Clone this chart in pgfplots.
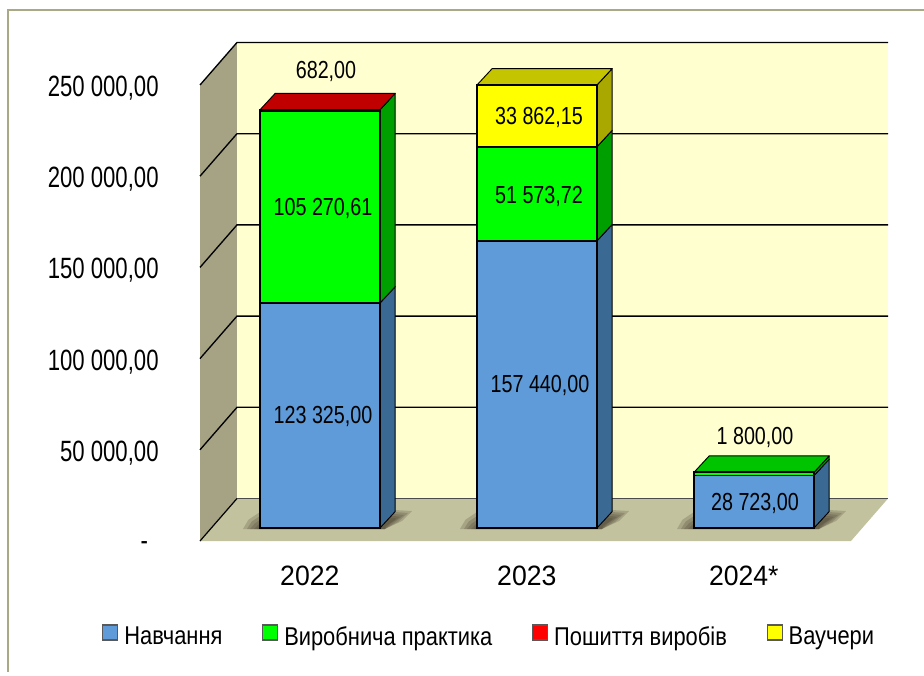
\documentclass[border=0pt]{standalone}
\usepackage{fontspec}
\setmainfont{Liberation Sans}[FakeStretch=0.8]
\newfontfamily\catfont{Liberation Sans}[FakeStretch=0.95]
\newfontfamily\legfont{Liberation Sans}[FakeStretch=0.85]
\newfontfamily\tickfont{Liberation Sans}[FakeStretch=0.755]
\usepackage{pgfplots}
\pgfplotsset{compat=1.18}

\definecolor{frameline}{HTML}{A9A985}
\definecolor{backwall}{HTML}{FFFFCF}
\definecolor{sidewall}{HTML}{A5A384}
\definecolor{floorc}{HTML}{C2C29E}
\definecolor{blue}{HTML}{5E9BD8}
\definecolor{blueside}{HTML}{3A6A94}
\definecolor{greenf}{HTML}{00FF00}
\definecolor{greenside}{HTML}{009F00}
\definecolor{greentop}{HTML}{00C400}
\definecolor{redf}{HTML}{FF0000}
\definecolor{redtop}{HTML}{C00000}
\definecolor{yellowf}{HTML}{FFFF00}
\definecolor{yellowside}{HTML}{A8A800}
\definecolor{yellowtop}{HTML}{C4C400}
\definecolor{shadowc}{HTML}{3A3020}

% 1 px of the reference = 0.75pt; the bars stand 11.5 px right and 13 px up of the front plane
\pgfplotsset{
  frontplane/.style={
    scale only axis, width=488.25pt, height=342pt,
    at={(150pt,100.5pt)}, anchor=south west,
    xmin=-0.5, xmax=2.5, ymin=0, ymax=250000,
    clip=false,
  },
  barshift/.style={xshift=8.625pt, yshift=9.75pt},
  face/.style={barshift, draw=black, line width=0.7pt, line join=round},
  wall/.style={draw=none},
  gridl/.style={black, line width=1pt},
  shadowl/.style={barshift, draw=none, fill=shadowc, fill opacity=0.2},
}
% depth of a bar: 0.07 in x, 9000 in y
\newcommand{\face}[2]{\addplot[face, fill=#1] coordinates {#2} --cycle;}
\newcommand{\gridline}[2]{\addplot[gridl] coordinates {(-0.5,#1) (-0.3295,#2) (2.6705,#2)};}
\newcommand{\barshadow}[1]{%
  \addplot[shadowl, xshift=#1] coordinates {(-0.3548,-548) (-0.33,4500) (-0.2765,8768) (0.3456,9864) (0.424,9316) (0.378,3836) (0.2995,-548)} --cycle;
  \addplot[shadowl, xshift=#1] coordinates {(-0.3364,-548) (-0.315,3500) (-0.2765,6576) (0.3456,8768) (0.4055,8220) (0.3594,3288) (0.2995,-548)} --cycle;
  \addplot[shadowl, xshift=#1] coordinates {(-0.3226,-548) (-0.30,2500) (-0.2765,4384) (0.3456,7672) (0.387,7124) (0.341,2740) (0.2995,-548)} --cycle;
  \addplot[shadowl, xshift=#1] coordinates {(-0.3041,-548) (-0.2765,2740) (0.3456,6576) (0.3687,6028) (0.3226,2192) (0.2995,-548)} --cycle;
  \addplot[shadowl, xshift=#1] coordinates {(-0.2903,-548) (-0.2765,1096) (0.3456,5480) (0.35,4932) (0.304,1096) (0.2995,-548)} --cycle;
}

\begin{document}
\begin{tikzpicture}
\useasboundingbox (0,0) rectangle (693pt,506.25pt);
\draw[frameline, line width=1.5pt] (693pt,498.75pt) -- (6pt,498.75pt) -- (6pt,2pt);

\begin{axis}[frontplane,
  axis lines=left, axis line style={draw=none}, major tick length=0pt,
  scaled y ticks=false,
  xtick={0,1,2}, xticklabels={2022,2023,2024*},
  xticklabel style={font=\catfont\fontsize{21}{21}\selectfont, anchor=center, xshift=1pt, yshift=-26pt},
  ytick={0,50000,100000,150000,200000,250000},
  yticklabels={\raisebox{1.5pt}{-}\kern8pt\null,{50 000,00},{100 000,00},{150 000,00},{200 000,00},{250 000,00}},
  yticklabel style={font=\tickfont\fontsize{22}{22}\selectfont, anchor=base east, xshift=-27.5pt, yshift=-8.6pt},
]
% walls and floor
\addplot[wall, fill=sidewall] coordinates {(-0.5,0) (-0.3295,23300) (-0.3295,273300) (-0.5,250000)} --cycle;
\addplot[wall, fill=backwall] coordinates {(-0.3295,23300) (2.6705,23300) (2.6705,273300) (-0.3295,273300)} --cycle;
\addplot[wall, fill=floorc] coordinates {(-0.5,0) (2.5,0) (2.6705,23300) (-0.3295,23300)} --cycle;
\addplot[black, line width=0.9pt] coordinates {(-0.5,0) (-0.3295,23300)};
\addplot[black!70, line width=0.8pt] coordinates {(-0.3295,23300) (2.6705,23300)};
\gridline{50000}{73300}
\gridline{100000}{123300}
\gridline{150000}{173300}
\gridline{200000}{223300}
\gridline{250000}{273300}
\barshadow{0pt}
\barshadow{162.75pt}
\barshadow{325.5pt}
% 2022 sides and top
\face{blueside}{(0.2765,0) (0.3465,9000) (0.3465,132325) (0.2765,123325)}
\face{greenside}{(0.2765,123325) (0.3465,132325) (0.3465,238278) (0.2765,229278)}
\face{redtop}{(-0.2765,229278) (0.2765,229278) (0.3465,238278) (-0.2065,238278)}
% 2023
\face{blueside}{(1.2765,0) (1.3465,9000) (1.3465,166440) (1.2765,157440)}
\face{greenside}{(1.2765,157440) (1.3465,166440) (1.3465,218014) (1.2765,209014)}
\face{yellowside}{(1.2765,209014) (1.3465,218014) (1.3465,251876) (1.2765,242876)}
\face{yellowtop}{(0.7235,242876) (1.2765,242876) (1.3465,251876) (0.7935,251876)}
% 2024
\face{blueside}{(2.2765,0) (2.3465,9000) (2.3465,37723) (2.2765,28723)}
\face{greenside}{(2.2765,28723) (2.3465,37723) (2.3465,39523) (2.2765,30523)}
\face{greentop}{(1.7235,30523) (2.2765,30523) (2.3465,39523) (1.7935,39523)}
\end{axis}

\begin{axis}[frontplane, hide axis,
  ybar stacked, bar width=0.553,
  every axis plot/.append style={barshift, draw=black, line width=1.3pt},
  legend columns=4,
  legend style={at={(0.4447,-0.2105)}, anchor=center, draw=none, fill=none,
    font=\legfont\fontsize{19.3}{19.3}\selectfont,
    /tikz/every even column/.append style={column sep=27.8pt}},
  legend image code/.code={\draw[#1, draw=black!65, line width=0.8pt] (0pt,-12pt) rectangle (11.25pt,-0.75pt); \path (13.5pt,-6pt);},
]
\addplot[fill=blue] coordinates {(0,123325) (1,157440) (2,28723)};
\addlegendentry{Навчання}
\addplot[fill=greenf] coordinates {(0,105270.61) (1,51573.72) (2,1800)};
\addlegendentry{Виробнича практика}
\addplot[fill=redf] coordinates {(0,682) (1,0) (2,0)};
\addlegendentry{Пошиття виробів}
\addplot[fill=yellowf] coordinates {(0,0) (1,33862.15) (2,0)};
\addlegendentry{Ваучери}
\end{axis}

% value labels, at reference pixels
\begin{scope}[shift={(0,506.25pt)}, x=0.75pt, y=-0.75pt, every node/.style={font=\fontsize{18.5}{18.5}\selectfont}]
\node at (326,71) {682,00};
\node at (323,208) {105 270,61};
\node at (323,416) {123 325,00};
\node at (540,385) {157 440,00};
\node at (539,196) {51 573,72};
\node at (539,117) {33 862,15};
\node at (755,437) {1 800,00};
\node at (755,503) {28 723,00};
\end{scope}
\end{tikzpicture}
\end{document}
